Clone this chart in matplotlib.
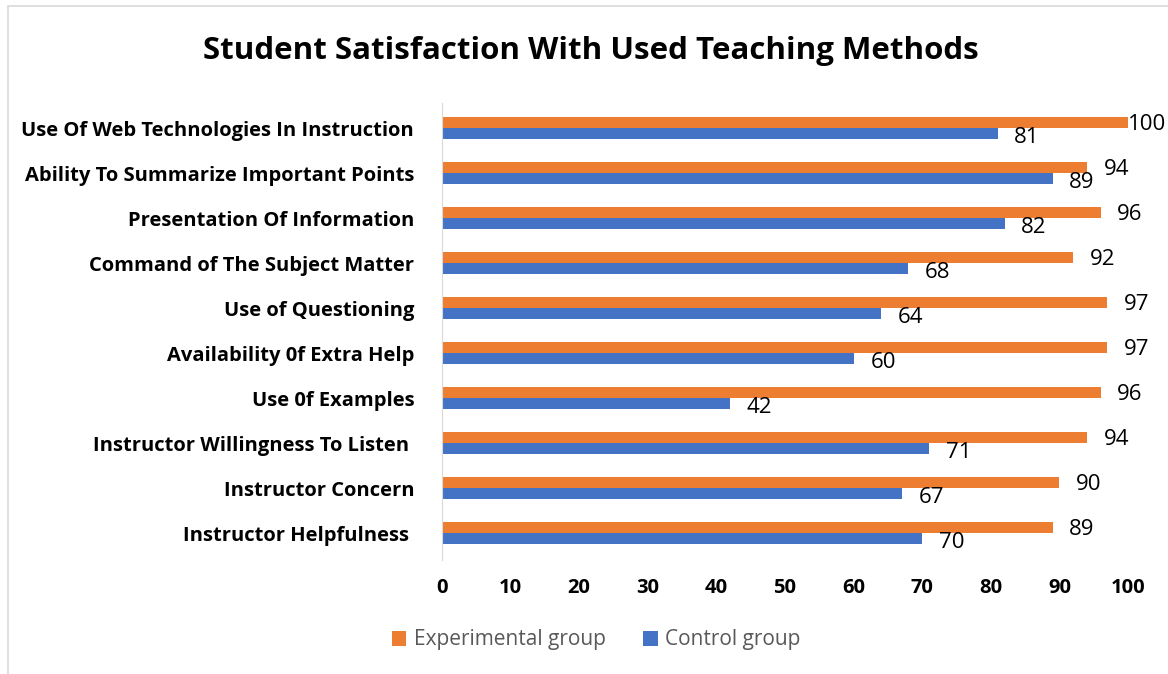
import matplotlib.pyplot as plt
from matplotlib.patches import Rectangle

categories = ["Instructor Helpfulness ", "Instructor Concern", "Instructor Willingness To Listen ",
              "Use 0f Examples", "Availability 0f Extra Help", "Use of Questioning",
              "Command of The Subject Matter", "Presentation Of Information",
              "Ability To Summarize Important Points", "Use Of Web Technologies In Instruction"]
experimental = [89, 90, 94, 96, 97, 97, 92, 96, 94, 100]
control = [70, 67, 71, 42, 60, 64, 68, 82, 89, 81]
xticks = [0, 10, 20, 30, 40, 50, 60, 70, 80, 90, 100]

orange = "#ED7D31"
blue = "#4472C4"
plt.rcParams['font.family'] = ['Open Sans', 'DejaVu Sans']

fig = plt.figure(figsize=(11.68, 6.74), dpi=100)
ax = fig.add_axes([442/1168, 1-560/674, 686/1168, 457/674])

# light frame round the chart area
fig.patches.append(Rectangle((8/1168, -0.1), 1.2, 1-6/674+0.1, transform=fig.transFigure,
                             fill=False, edgecolor="#D9D9D9", linewidth=1.2))

y = list(range(len(categories)))
h = 0.24
ax.barh([v + h/2 for v in y], experimental, height=h, color=orange, label="Experimental group")
ax.barh([v - h/2 for v in y], control, height=h, color=blue, label="Control group")

for i in y:
    dx = 12 if experimental[i] < 99 else 0
    ax.annotate(str(experimental[i]), (experimental[i], i + h/2), xytext=(dx, -1.5),
                textcoords="offset points", va="center", ha="left", fontsize=16)
    ax.annotate(str(control[i]), (control[i], i - h/2), xytext=(12, -3),
                textcoords="offset points", va="center", ha="left", fontsize=16)

ax.set_xlim(0, 100)
ax.set_ylim(-0.6, 9.56)
ax.set_xticks(xticks)
ax.set_xticklabels([str(t) for t in xticks], fontsize=14.5, fontweight="bold")
ax.set_yticks(y)
ax.set_yticklabels(categories, fontsize=14.5, fontweight="bold")
ax.tick_params(length=0)
ax.tick_params(axis="x", pad=13)
ax.tick_params(axis="y", pad=20)
for s in ["top", "right", "bottom"]:
    ax.spines[s].set_visible(False)
ax.spines["left"].set_color("#D9D9D9")

fig.text(591/1168, 1-51/674, "Student Satisfaction With Used Teaching Methods",
         ha="center", va="center", fontsize=22.5, fontweight="bold")

handles, labels = ax.get_legend_handles_labels()
leg = fig.legend(handles, labels, loc="center", bbox_to_anchor=(596/1168, 1-640/674), ncol=2,
                 frameon=False, fontsize=15, handlelength=0.7, handleheight=0.7,
                 columnspacing=1.8, handletextpad=0.35)
for t in leg.get_texts():
    t.set_color("#595959")

fig.savefig("out.png", dpi=100)
